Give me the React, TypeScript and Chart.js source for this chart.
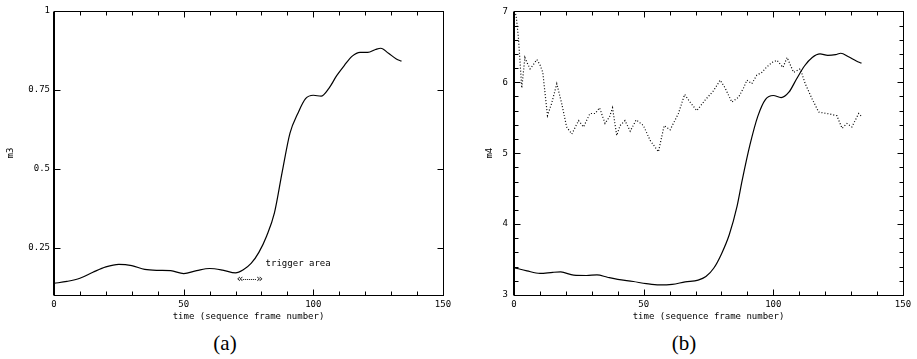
import React, { useEffect, useRef } from "react";
import { Chart, registerables } from "chart.js";
Chart.register(...registerables);

// ---- data (a): m3 ----
const m3Time = [0, 5, 10, 15, 20, 25, 30, 35, 40, 45, 50, 55, 60, 65, 70, 73, 76, 79, 82, 85, 88, 91, 94, 97, 100, 103, 106, 109, 112, 115, 118, 121, 124, 126, 129, 132, 134];
const m3Values = [0.137, 0.143, 0.153, 0.172, 0.189, 0.197, 0.193, 0.181, 0.178, 0.177, 0.168, 0.177, 0.184, 0.179, 0.17, 0.18, 0.2, 0.235, 0.287, 0.36, 0.49, 0.613, 0.675, 0.722, 0.733, 0.73, 0.755, 0.795, 0.828, 0.857, 0.869, 0.869, 0.878, 0.882, 0.866, 0.848, 0.841];

// ---- data (b): m4 solid ----
const m4SolidTime = [0, 5, 10, 15, 18, 23, 28, 32, 36, 40, 46, 51, 56, 61, 66, 71, 74, 77, 80, 83, 86, 88, 91, 94, 97, 100, 103, 106, 109, 112, 115, 118, 121, 124, 126, 129, 132, 134];
const m4SolidValues = [3.385, 3.34, 3.305, 3.32, 3.325, 3.28, 3.275, 3.283, 3.25, 3.22, 3.19, 3.16, 3.142, 3.15, 3.185, 3.21, 3.26, 3.377, 3.58, 3.85, 4.25, 4.62, 5.12, 5.52, 5.76, 5.814, 5.785, 5.86, 6.05, 6.23, 6.35, 6.4, 6.38, 6.39, 6.41, 6.36, 6.3, 6.27];

// ---- data (b): m4 dotted ----
const m4DottedTime = [0, 0.8, 1.7, 3, 4.2, 5, 6.2, 7.5, 8.8, 10, 11.1, 12.9, 14.5, 16.5, 18.4, 20.3, 22.3, 24.9, 26.8, 29.3, 31.3, 33, 35.1, 36.8, 38, 39.6, 40.9, 42.8, 44.8, 47.1, 49.9, 52.5, 55.7, 57.9, 60.2, 63.4, 65.8, 67.9, 70.5, 73.7, 76.9, 79.5, 81.4, 84, 86.6, 88.5, 89.8, 91.7, 93.6, 95.6, 97.3, 99.5, 101.4, 103.7, 105.3, 107.8, 110.4, 112.3, 114.9, 117.5, 120.7, 124.5, 126.5, 128.4, 130.3, 132.9, 134.2];
const m4DottedValues = [7.0, 6.95, 6.63, 5.92, 6.35, 6.28, 6.19, 6.25, 6.32, 6.25, 6.14, 5.53, 5.7, 5.98, 5.7, 5.37, 5.27, 5.46, 5.37, 5.56, 5.56, 5.64, 5.42, 5.51, 5.64, 5.25, 5.39, 5.46, 5.31, 5.47, 5.39, 5.18, 5.02, 5.39, 5.33, 5.56, 5.83, 5.72, 5.6, 5.75, 5.88, 6.03, 5.92, 5.72, 5.79, 5.92, 6.03, 5.98, 6.1, 6.14, 6.21, 6.28, 6.31, 6.21, 6.35, 6.14, 6.19, 5.98, 5.77, 5.58, 5.56, 5.53, 5.35, 5.42, 5.37, 5.56, 5.51];

// ---- ticks ----
const xTickLabels = [0, 50, 100, 150];
const xTickMarks = [0, 10, 20, 30, 40, 50, 60, 70, 80, 90, 100, 110, 120, 130, 140, 150];
const m3TickLabels = [0.25, 0.5, 0.75, 1];
const m3TickMarks = [0.25, 0.5, 0.75, 1];
const m4TickLabels = [3, 4, 5, 6, 7];
const m4TickMarks = [3, 3.2, 3.4, 3.6, 3.8, 4, 4.2, 4.4, 4.6, 4.8, 5, 5.2, 5.4, 5.6, 5.8, 6, 6.2, 6.4, 6.6, 6.8, 7];

const FONT = { family: "'DejaVu Sans Mono', monospace", size: 9 };

function makeFramePlugin(p: any) {
  return {
    id: "frame",
    afterDraw(chart: any) {
      const { ctx, chartArea: a, scales } = chart;
      ctx.save();
      ctx.strokeStyle = "#000";
      ctx.lineWidth = 1;
      const L = Math.round(a.left) + 0.5, R = Math.round(a.right) + 0.5;
      const T = Math.round(a.top) + 0.5, B = Math.round(a.bottom) + 0.5;
      ctx.strokeRect(L, T, R - L, B - T);
      ctx.beginPath();
      ctx.moveTo(L - 1, T); ctx.lineTo(L - 1, B);
      for (const v of xTickMarks) {
        const px = Math.round(scales.x.getPixelForValue(v)) + 0.5;
        const len = xTickLabels.includes(v) ? 6 : 4;
        ctx.moveTo(px, B); ctx.lineTo(px, B - len);
        ctx.moveTo(px, T); ctx.lineTo(px, T + len);
      }
      for (const v of p.yMarks as number[]) {
        const py = Math.round(scales.y.getPixelForValue(v)) + 0.5;
        const len = (p.yLabels as number[]).includes(v) ? 6 : 4;
        ctx.moveTo(L, py); ctx.lineTo(L + len, py);
        ctx.moveTo(R, py); ctx.lineTo(R - len, py);
      }
      ctx.stroke();
      if (p.trigger) {
        const t = p.trigger;
        ctx.fillStyle = "#000";
        ctx.font = "9px 'DejaVu Sans Mono', monospace";
        ctx.textBaseline = "middle";
        ctx.textAlign = "left";
        ctx.fillText(t.text, scales.x.getPixelForValue(t.textX), scales.y.getPixelForValue(t.textY));
        const x1 = scales.x.getPixelForValue(t.from), x2 = scales.x.getPixelForValue(t.to);
        const ay = Math.round(scales.y.getPixelForValue(t.arrowY)) + 0.5;
        ctx.font = "11px 'DejaVu Sans Mono', monospace";
        ctx.fillText("«", x1, ay);
        ctx.textAlign = "right";
        ctx.fillText("»", x2, ay);
        ctx.setLineDash([1, 1]);
        ctx.beginPath();
        ctx.moveTo(x1 + 6, ay); ctx.lineTo(x2 - 6, ay);
        ctx.stroke();
      }
      ctx.restore();
    },
  };
}

function makeConfig(p: any) {
  return {
    type: "line",
    data: { datasets: p.datasets },
    plugins: [makeFramePlugin(p)],
    options: {
      animation: false,
      responsive: false,
      devicePixelRatio: 1,
      layout: { padding: { left: 0, right: p.padRight, top: 11, bottom: 0 } },
      plugins: {
        legend: { display: false },
        tooltip: { enabled: false },
      },
      elements: { point: { radius: 0 } },
      scales: {
        x: {
          type: "linear", min: 0, max: 150,
          grid: { display: false, drawTicks: false },
          border: { display: false },
          afterBuildTicks: (s: any) => { s.ticks = xTickLabels.map((v) => ({ value: v })); },
          ticks: { font: FONT, color: "#000", padding: 4, maxRotation: 0, autoSkip: false },
          title: { display: true, text: "time (sequence frame number)", font: FONT, color: "#000", padding: { top: 0, bottom: 8 } },
          afterFit: (s: any) => { s.height = 35; },
        },
        y: {
          type: "linear", min: p.yMin, max: p.yMax,
          grid: { display: false, drawTicks: false },
          border: { display: false },
          afterBuildTicks: (s: any) => { s.ticks = p.yLabels.map((v: number) => ({ value: v })); },
          ticks: { font: FONT, color: "#000", padding: p.yPad, autoSkip: false, callback: (v: any) => String(v) },
          title: { display: true, text: p.yTitle, font: FONT, color: "#000", padding: { top: p.titlePad, bottom: 0 } },
          afterFit: (s: any) => { s.width = p.yWidth; },
        },
      },
    },
  };
}

function pts(t: number[], v: number[]) {
  return t.map((x, i) => ({ x, y: v[i] }));
}

function Panel(props: { config: any; left: number; width: number }) {
  const ref = useRef<HTMLCanvasElement>(null);
  useEffect(() => {
    const chart = new Chart(ref.current as any, props.config);
    return () => chart.destroy();
  }, []);
  return (
    <canvas
      ref={ref}
      width={props.width}
      height={330}
      style={{ position: "absolute", left: props.left, top: 0, width: props.width, height: 330, display: "block" }}
    />
  );
}

export default function App() {
  const cfgA = makeConfig({
    datasets: [{ data: pts(m3Time, m3Values), borderColor: "#000", borderWidth: 1.2, cubicInterpolationMode: "monotone", fill: false }],
    yMin: 0.1, yMax: 1, yLabels: m3TickLabels, yMarks: m3TickMarks, yTitle: "m3",
    yWidth: 54, yPad: 4, titlePad: 5, padRight: 15,
    trigger: { text: "trigger area", textX: 81.6, textY: 0.199, from: 70.5, to: 80.5, arrowY: 0.152 },
  });
  const cfgB = makeConfig({
    datasets: [
      { data: pts(m4SolidTime, m4SolidValues), borderColor: "#000", borderWidth: 1.2, cubicInterpolationMode: "monotone", fill: false },
      { data: pts(m4DottedTime, m4DottedValues), borderColor: "#000", borderWidth: 1.2, borderDash: [1, 2], tension: 0, fill: false },
    ],
    yMin: 3, yMax: 7, yLabels: m4TickLabels, yMarks: m4TickMarks, yTitle: "m4",
    yWidth: 56, yPad: 6, titlePad: 26, padRight: 14,
  });
  const cap = { position: "absolute" as const, top: 330, width: 60, textAlign: "center" as const, fontFamily: "'Liberation Serif', serif", fontSize: 21, lineHeight: "26px" };
  return (
    <div style={{ position: "fixed", left: 0, top: 0, width: 917, height: 359, background: "#fff", overflow: "hidden" }}>
      <Panel config={cfgA} left={0} width={458} />
      <Panel config={cfgB} left={458} width={459} />
      <div style={{ ...cap, left: 195 }}>(a)</div>
      <div style={{ ...cap, left: 654 }}>(b)</div>
    </div>
  );
}
